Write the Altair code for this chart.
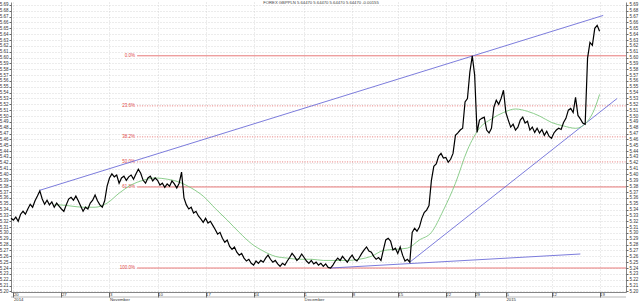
import altair as alt
import pandas as pd

# ---- data (6-hour bars, GBP/PLN) ----
price = [5.325, 5.322, 5.327, 5.320, 5.332, 5.337, 5.332, 5.341, 5.349, 5.344,
         5.355, 5.363, 5.372, 5.358, 5.349, 5.356, 5.348, 5.353, 5.344, 5.351,
         5.346, 5.341, 5.337, 5.348, 5.358, 5.361, 5.356, 5.363, 5.355, 5.346,
         5.337, 5.344, 5.341, 5.351, 5.356, 5.365, 5.355, 5.348, 5.344, 5.355,
         5.380, 5.394, 5.401, 5.396, 5.399, 5.385, 5.394, 5.397, 5.390, 5.396,
         5.399, 5.392, 5.401, 5.409, 5.402, 5.390, 5.385, 5.394, 5.397, 5.389,
         5.394, 5.390, 5.382, 5.385, 5.378, 5.384, 5.380, 5.389, 5.384, 5.377,
         5.385, 5.404, 5.360, 5.348, 5.341, 5.344, 5.334, 5.337, 5.329, 5.324,
         5.318, 5.325, 5.317, 5.320, 5.313, 5.306, 5.298, 5.301, 5.291, 5.284,
         5.288, 5.277, 5.272, 5.276, 5.267, 5.262, 5.265, 5.257, 5.252, 5.255,
         5.248, 5.245, 5.252, 5.248, 5.253, 5.250, 5.257, 5.262, 5.255, 5.250,
         5.253, 5.247, 5.243, 5.248, 5.245, 5.252, 5.258, 5.265, 5.260, 5.253,
         5.257, 5.264, 5.258, 5.252, 5.248, 5.253, 5.247, 5.250, 5.245, 5.248,
         5.243, 5.247, 5.241, 5.240, 5.245, 5.252, 5.257, 5.253, 5.260, 5.255,
         5.250, 5.257, 5.262, 5.255, 5.252, 5.258, 5.265, 5.271, 5.276, 5.269,
         5.267, 5.260, 5.255, 5.258, 5.253, 5.271, 5.288, 5.291, 5.286, 5.271,
         5.274, 5.265, 5.276, 5.262, 5.252, 5.255, 5.250, 5.301, 5.308, 5.303,
         5.310, 5.325, 5.335, 5.339, 5.347, 5.390, 5.414, 5.418, 5.431, 5.436,
         5.428, 5.429, 5.421, 5.426, 5.436, 5.467, 5.471, 5.476, 5.479, 5.524,
         5.530, 5.575, 5.603, 5.570, 5.472, 5.493, 5.496, 5.498, 5.476, 5.471,
         5.479, 5.515, 5.527, 5.520, 5.530, 5.544, 5.506, 5.493, 5.481, 5.486,
         5.476, 5.481, 5.493, 5.498, 5.488, 5.491, 5.476, 5.481, 5.472, 5.479,
         5.471, 5.477, 5.467, 5.474, 5.465, 5.462, 5.471, 5.476, 5.479, 5.477,
         5.489, 5.496, 5.510, 5.513, 5.506, 5.532, 5.501, 5.495, 5.488, 5.486,
         5.599, 5.626, 5.621, 5.650, 5.655, 5.645]
bar = list(range(len(price)))

# moving average (green)
ma_bar = [18, 20, 25, 30, 35, 40, 45, 50, 55, 60, 65, 70, 75, 80, 85, 90, 95,
          100, 105, 110, 115, 120, 125, 130, 135, 140, 145, 150, 155, 160, 165,
          170, 175, 180, 185, 190, 195, 200, 205, 210, 215, 220, 225, 230, 235,
          240, 243, 245]
ma_val = [5.348, 5.348, 5.346, 5.344, 5.344, 5.351, 5.368, 5.382, 5.390, 5.394,
          5.392, 5.387, 5.377, 5.363, 5.342, 5.322, 5.301, 5.282, 5.269, 5.260,
          5.257, 5.255, 5.255, 5.253, 5.253, 5.253, 5.255, 5.260, 5.270, 5.272,
          5.274, 5.288, 5.301, 5.339, 5.385, 5.442, 5.479, 5.495, 5.506, 5.512,
          5.508, 5.500, 5.489, 5.483, 5.479, 5.491, 5.513, 5.537]

# trend lines (blue)
trend_x1 = [12, 133, 166]
trend_y1 = [5.373, 5.240, 5.250]
trend_x2 = [246.5, 237, 252.3]
trend_y2 = [5.672, 5.264, 5.530]

# Fibonacci retracement
fib_high = 5.603
fib_low = 5.240
fib_ratio = [0.0, 0.236, 0.382, 0.5, 0.618, 1.0]
fib_label = ["0.0%", "23.6%", "38.2%", "50.0%", "61.8%", "100.0%"]
fib_solid = [True, False, False, False, True, True]
fib_start = 52.5
fib_end = 256

# axes
tick_bars = [1, 21, 41, 61, 81, 101, 122, 142, 161, 181, 193, 206, 225, 245]
tick_day = ["20", "27", "3", "10", "17", "24", "1", "8", "15", "22", "29", "5", "12", "19"]
month_bars = [1, 41, 122, 206]
month_names = ["2014", "November", "December", "2015"]
y_ticks = [5.20, 5.21, 5.22, 5.23, 5.24, 5.25, 5.26, 5.27, 5.28, 5.29,
           5.30, 5.31, 5.32, 5.33, 5.34, 5.35, 5.36, 5.37, 5.38, 5.39,
           5.40, 5.41, 5.42, 5.43, 5.44, 5.45, 5.46, 5.47, 5.48, 5.49,
           5.50, 5.51, 5.52, 5.53, 5.54, 5.55, 5.56, 5.57, 5.58, 5.59,
           5.60, 5.61, 5.62, 5.63, 5.64, 5.65, 5.66, 5.67, 5.68, 5.69]
title_text = "FOREX GBPPLN 5.64470 5.64470 5.64470 5.64470 -0.00155"

# ---- frames ----
df = pd.DataFrame({"bar": bar, "price": price})
ma_df = pd.DataFrame({"bar": ma_bar, "ma": ma_val})
tr_df = pd.DataFrame({"x1": trend_x1, "y1": trend_y1, "x2": trend_x2, "y2": trend_y2})
fib_df = pd.DataFrame({
    "level": [fib_high - r * (fib_high - fib_low) for r in fib_ratio],
    "label": fib_label,
    "solid": fib_solid,
    "start": [fib_start] * len(fib_ratio),
    "end": [fib_end] * len(fib_ratio),
})
month_df = pd.DataFrame({"bar": month_bars, "m": month_names})
one = pd.DataFrame({"t": [title_text]})

FONT = "Liberation Sans"
xs = alt.Scale(domain=[0, 256], nice=False, zero=False)
ys = alt.Scale(domain=[5.199, 5.695], nice=False, zero=False)

parts = []
for b, d in zip(tick_bars, tick_day):
    parts.append(f"datum.value == {b} ? '{d}' : ")
label_expr = "".join(parts) + "''"

x_axis = alt.Axis(values=tick_bars, labelExpr=label_expr, labelAlign="left",
                  labelBaseline="top", labelPadding=-5,
                  labelFontSize=4.3, labelFont=FONT,
                  labelColor="#333", tickSize=5, tickColor="#666",
                  domainColor="#666", domainWidth=0.8, grid=True,
                  gridColor="#cfcfcf", gridDash=[1, 2], gridWidth=0.8,
                  title=None, labelOverlap=False, labelFlush=False)

y_right = alt.Axis(orient="right", values=y_ticks, format=".2f",
                   labelFontSize=4.5, labelFont=FONT, labelColor="#333",
                   labelPadding=1, tickSize=2, tickColor="#666",
                   domainColor="#666", domainWidth=0.8, grid=True,
                   gridColor="#cfcfcf", gridDash=[1, 2], gridWidth=0.8,
                   title=None, labelOverlap=False, labelFlush=False)
y_left = alt.Axis(orient="left", values=y_ticks, format=".2f",
                  labelFontSize=4.5, labelFont=FONT, labelColor="#333",
                  labelPadding=1, tickSize=2, tickColor="#666",
                  domainColor="#666", domainWidth=0.8, grid=False,
                  title=None, labelOverlap=False, labelFlush=False)

def X(field):
    return alt.X(field, scale=xs, axis=x_axis)

base_axis_layer = alt.Chart(df).mark_line(opacity=0).encode(
    x=X("bar:Q"),
    y=alt.Y("price:Q", scale=ys, axis=y_right),
)
left_axis_layer = alt.Chart(df).mark_line(opacity=0).encode(
    x=X("bar:Q"),
    y=alt.Y("price:Q", scale=ys, axis=y_left),
)

fib_solid_l = alt.Chart(fib_df).transform_filter("datum.solid").mark_rule(
    color="#e46a6a", strokeWidth=0.9).encode(
    x=X("start:Q"), x2="end:Q",
    y=alt.Y("level:Q", scale=ys, axis=None))
fib_dot_l = alt.Chart(fib_df).transform_filter("!datum.solid").mark_rule(
    color="#e46a6a", strokeWidth=0.9, strokeDash=[1, 1.5]).encode(
    x=X("start:Q"), x2="end:Q",
    y=alt.Y("level:Q", scale=ys, axis=None))
fib_txt = alt.Chart(fib_df).mark_text(
    align="right", baseline="middle", dx=-2, fontSize=4.5, font=FONT,
    color="#e04848").encode(
    x=X("start:Q"),
    y=alt.Y("level:Q", scale=ys, axis=None), text="label:N")

trend = alt.Chart(tr_df).mark_rule(color="#6d6dd8", strokeWidth=0.9).encode(
    x=X("x1:Q"), x2="x2:Q",
    y=alt.Y("y1:Q", scale=ys, axis=None), y2="y2:Q")

ma_line = alt.Chart(ma_df).mark_line(color="#7fc77f", strokeWidth=0.9,
                                      interpolate="monotone").encode(
    x=X("bar:Q"),
    y=alt.Y("ma:Q", scale=ys, axis=None))

price_line = alt.Chart(df).mark_line(color="#000000", strokeWidth=1.2).encode(
    x=X("bar:Q"),
    y=alt.Y("price:Q", scale=ys, axis=None))

months = alt.Chart(month_df).mark_text(
    fontSize=4.3, font=FONT, color="#333", align="left", baseline="top",
    dx=0.5).encode(x=X("bar:Q"), y=alt.value(295.6), text="m:N")

strip = alt.Chart(one).mark_rule(color="#888", strokeWidth=0.6).encode(
    x=alt.value(0), x2=alt.value(615), y=alt.value(295))

title = alt.Chart(one).mark_text(fontSize=4.2, font=FONT, color="#444",
                                 baseline="top", align="center").encode(
    text="t:N", x=alt.value(310), y=alt.value(-1))

chart = alt.layer(
    base_axis_layer, left_axis_layer, fib_solid_l, fib_dot_l, fib_txt,
    trend, ma_line, price_line, strip, months, title
).resolve_scale(y="independent").properties(
    width=615, height=290,
    padding={"left": 11, "top": 2, "right": 14, "bottom": 10},
    autosize=alt.AutoSizeParams(type="none"),
    background="white",
).configure_view(stroke=None)

chart.save("out.html", embed_options={"renderer": "svg", "actions": False})
